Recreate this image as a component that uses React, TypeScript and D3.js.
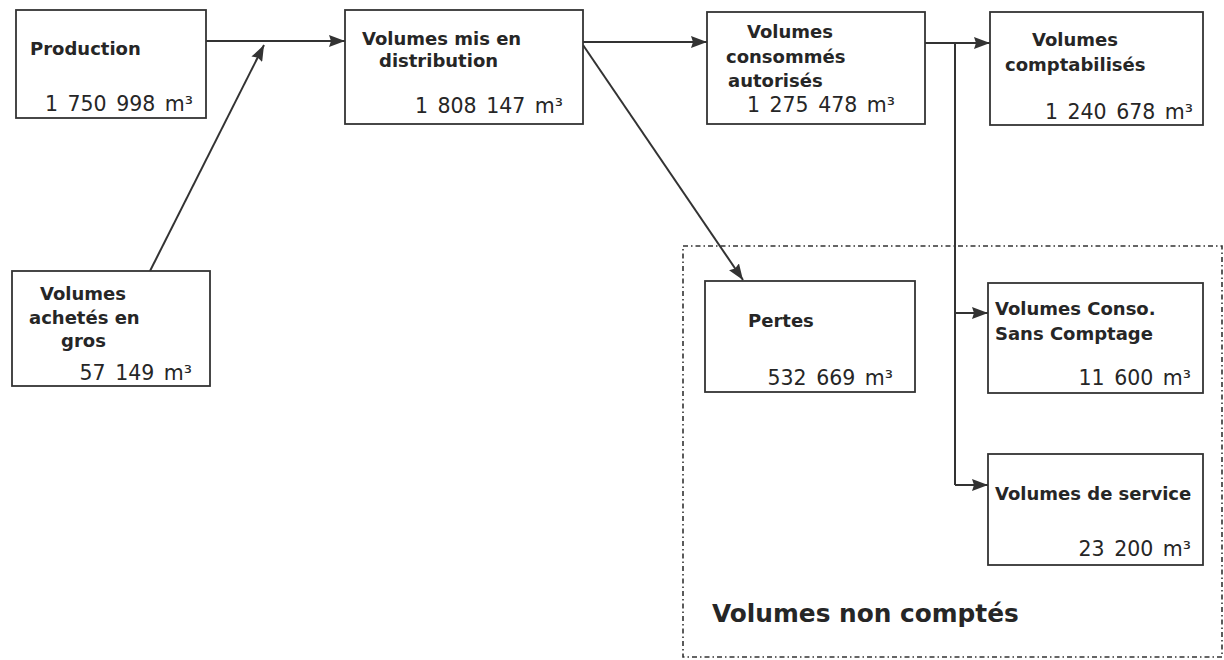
import React from "react";
import * as d3 from "d3";

// ---- data ----
const nodeIds = ["prod", "achat", "distrib", "conso", "compta", "pertes", "sansCompt", "service"];
const nodeLabels = [
  ["Production"],
  ["Volumes", "achetés en", "gros"],
  ["Volumes mis en", "distribution"],
  ["Volumes", "consommés", "autorisés"],
  ["Volumes", "comptabilisés"],
  ["Pertes"],
  ["Volumes Conso.", "Sans Comptage"],
  ["Volumes de service"],
];
const nodeValues = [1750998, 57149, 1808147, 1275478, 1240678, 532669, 11600, 23200];
const groupLabel = "Volumes non comptés";
const unit = "m³";

// ---- layout (positions only) ----
// box: [x, y, w, h]; lines: [x, baseline]; value: [rightX, baseline]
const boxLayout: Record<string, { box: number[]; lines: number[][]; value: number[] }> = {
  prod: { box: [16, 10, 190, 108], lines: [[30, 55]], value: [193, 111] },
  achat: { box: [12, 271, 198, 115], lines: [[40, 300], [29, 324], [61, 347]], value: [192, 380] },
  distrib: { box: [345, 10, 238, 114], lines: [[362, 45], [379, 67]], value: [563, 113] },
  conso: { box: [707, 12, 218, 112], lines: [[747, 38], [726, 63], [728, 87]], value: [895, 112] },
  compta: { box: [990, 12, 213, 113], lines: [[1032, 46], [1005, 71]], value: [1193, 119] },
  pertes: { box: [705, 281, 210, 111], lines: [[748, 327]], value: [893, 385] },
  sansCompt: { box: [988, 283, 215, 110], lines: [[995, 315], [995, 340]], value: [1191, 385] },
  service: { box: [988, 454, 215, 111], lines: [[995, 500]], value: [1191, 556] },
};

const arrows: { pts: number[][]; head: boolean }[] = [
  { pts: [[206, 41], [345, 41]], head: true },
  { pts: [[150, 271], [264, 45]], head: true },
  { pts: [[583, 42], [707, 42]], head: true },
  { pts: [[583, 45], [743, 280]], head: true },
  { pts: [[925, 43], [990, 43]], head: true },
  { pts: [[955, 43], [955, 485]], head: false },
  { pts: [[955, 313], [988, 313]], head: true },
  { pts: [[955, 485], [988, 485]], head: true },
];

const groupBox = [683, 246, 539, 411];
const groupText = [712, 622];

const locale = d3.formatLocale({ decimal: ",", thousands: " ", grouping: [3], currency: ["", " €"] });
const fmt = locale.format(",d");

const FONT = "'DejaVu Sans', Verdana, sans-serif";
const INK = "#262626";
const LINE = "#333";

export default function App() {
  const line = d3.line();
  return (
    <div style={{ position: "absolute", left: 0, top: 0 }}>
      <svg width={1224} height={660} style={{ display: "block", background: "#fff" }}>
        <defs>
          <marker
            id="ah"
            markerUnits="userSpaceOnUse"
            viewBox="0 0 16 12"
            refX={16}
            refY={6}
            markerWidth={16}
            markerHeight={12}
            orient="auto"
          >
            <path d="M0,0 L16,6 L0,12 L2,6 Z" fill={LINE} />
          </marker>
        </defs>

        <rect
          x={groupBox[0]}
          y={groupBox[1]}
          width={groupBox[2]}
          height={groupBox[3]}
          fill="none"
          stroke={LINE}
          strokeWidth={1.6}
          strokeDasharray="5,3,1.5,3"
        />
        <text x={groupText[0]} y={groupText[1]} fontFamily={FONT} fontWeight="bold" fontSize={24.8} fill={INK}>
          {groupLabel}
        </text>

        {arrows.map((a, i) => (
          <path
            key={i}
            d={line(a.pts as [number, number][]) || ""}
            stroke={LINE}
            strokeWidth={2}
            fill="none"
            markerEnd={a.head ? "url(#ah)" : undefined}
          />
        ))}

        {nodeIds.map((id, i) => {
          const L = boxLayout[id];
          return (
            <g key={id}>
              <rect
                x={L.box[0]}
                y={L.box[1]}
                width={L.box[2]}
                height={L.box[3]}
                fill="#fff"
                stroke={LINE}
                strokeWidth={1.8}
              />
              {nodeLabels[i].map((t, j) => (
                <text
                  key={j}
                  x={L.lines[j][0]}
                  y={L.lines[j][1]}
                  fontFamily={FONT}
                  fontWeight="bold"
                  fontSize={18}
                  fill={INK}
                >
                  {t}
                </text>
              ))}
              <text
                x={L.value[0]}
                y={L.value[1]}
                textAnchor="end"
                fontFamily={FONT}
                fontSize={20.5}
                wordSpacing={3}
                fill={INK}
              >
                {fmt(nodeValues[i]) + " " + unit}
              </text>
            </g>
          );
        })}
      </svg>
    </div>
  );
}
